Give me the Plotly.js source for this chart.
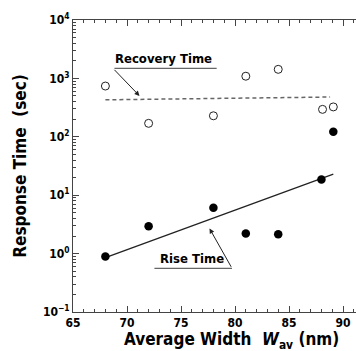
<!DOCTYPE html>
<html><head><meta charset="utf-8">
<script src="https://cdn.plot.ly/plotly-3.0.1.min.js"></script>
<style>html,body{margin:0;padding:0;background:#fff;}#chart{width:356px;height:351px;}</style>
</head><body><div id="chart"></div>
<script>
// Data
const recoveryWidth = [68, 72, 78, 81, 84, 88.1, 89.1];
const recoveryTime  = [740, 170, 229, 1090, 1430, 295, 325];
const riseWidth = [68, 72, 78, 81, 84, 88, 89.1];
const riseTime  = [0.89, 2.95, 6.1, 2.2, 2.15, 18.5, 122];
const recoveryFitX = [68, 88.8];
const recoveryFitY = [430, 480];
const riseFitX = [68, 89.1];
const riseFitY = [0.85, 23];
const yTickVals = [0.1, 1, 10, 100, 1000, 10000];
const yTickText = ['10<sup>−1</sup>', '10<sup>0</sup>', '10<sup>1</sup>', '10<sup>2</sup>', '10<sup>3</sup>', '10<sup>4</sup>'];
const xTickVals = [65, 70, 75, 80, 85, 90];

const F = 'DejaVu Sans Condensed, DejaVu Sans, sans-serif';
const traces = [
  {x: recoveryFitX, y: recoveryFitY, mode: 'lines', line: {color: '#666', width: 1.5, dash: '4px,3px'}, hoverinfo: 'skip'},
  {x: riseFitX, y: riseFitY, mode: 'lines', line: {color: '#222', width: 1.3}, hoverinfo: 'skip'},
  {x: recoveryWidth, y: recoveryTime, mode: 'markers', marker: {symbol: 'circle-open', size: 8, color: '#222', line: {width: 1}}},
  {x: riseWidth, y: riseTime, mode: 'markers', marker: {symbol: 'circle', size: 8.5, color: '#000'}}
];
const layout = {
  width: 356, height: 351,
  margin: {l: 73, r: 0, t: 20, b: 39},
  showlegend: false,
  paper_bgcolor: '#fff', plot_bgcolor: '#fff',
  font: {family: F, color: '#000', size: 12},
  xaxis: {
    range: [65, 91.2], showline: true, linecolor: '#444', linewidth: 1, mirror: 'ticks',
    ticks: 'inside', ticklen: 6, tickcolor: '#444', tickvals: xTickVals, showgrid: false, zeroline: false,
    tickfont: {family: F, size: 12, weight: 'bold'},
    minor: {ticks: 'inside', ticklen: 3, tickcolor: '#444', dtick: 1, showgrid: false}
  },
  yaxis: {
    type: 'log', range: [-1, 4], showline: true, linecolor: '#444', linewidth: 1,
    ticks: 'inside', ticklen: 6, tickcolor: '#444', tickvals: yTickVals, ticktext: yTickText,
    showgrid: false, zeroline: false, tickfont: {family: F, size: 12, weight: 'bold'},
    minor: {ticks: 'inside', ticklen: 3, tickcolor: '#444', dtick: 'D1', showgrid: false},
    title: {text: 'Response Time  (sec)', font: {family: F, size: 17, weight: 'bold'}, standoff: 12}
  },
  annotations: [
    {xref: 'paper', yref: 'paper', x: 0.56, y: -0.052, yanchor: 'top', xanchor: 'center', showarrow: false,
     text: 'Average Width  <i>W</i><sub>av</sub> (nm)', font: {family: F, size: 17, weight: 'bold'}},
    // Recovery label + underline + arrow
    {x: 73.4, y: 3.18, xref: 'x', yref: 'y', text: 'Recovery Time', showarrow: false, yanchor: 'bottom', font: {family: F, size: 13, weight: 'bold'}},
    {x: 78.3, y: 3.173, ax: 68.7, ay: 3.173, axref: 'x', ayref: 'y', xref: 'x', yref: 'y', text: '', showarrow: true, arrowhead: 0, arrowwidth: 1.3, arrowcolor: '#666'},
    {x: 71.16, y: 2.70, ax: 68.7, ay: 3.173, axref: 'x', ayref: 'y', xref: 'x', yref: 'y', text: '', showarrow: true, arrowhead: 2, arrowsize: 1, arrowwidth: 1, arrowcolor: '#222', standoff: 0},
    // Rise label + underline + arrow
    {x: 76.0, y: -0.245, xref: 'x', yref: 'y', text: 'Rise Time', showarrow: false, yanchor: 'bottom', font: {family: F, size: 13, weight: 'bold'}},
    {x: 79.72, y: -0.252, ax: 72.4, ay: -0.252, axref: 'x', ayref: 'y', xref: 'x', yref: 'y', text: '', showarrow: true, arrowhead: 0, arrowwidth: 1.3, arrowcolor: '#666'},
    {x: 77.64, y: 0.43, ax: 79.72, ay: -0.252, axref: 'x', ayref: 'y', xref: 'x', yref: 'y', text: '', showarrow: true, arrowhead: 2, arrowsize: 1, arrowwidth: 1, arrowcolor: '#222', standoff: 0}
  ]
};
Plotly.newPlot('chart', traces, layout, {displayModeBar: false, staticPlot: true});
</script></body></html>
